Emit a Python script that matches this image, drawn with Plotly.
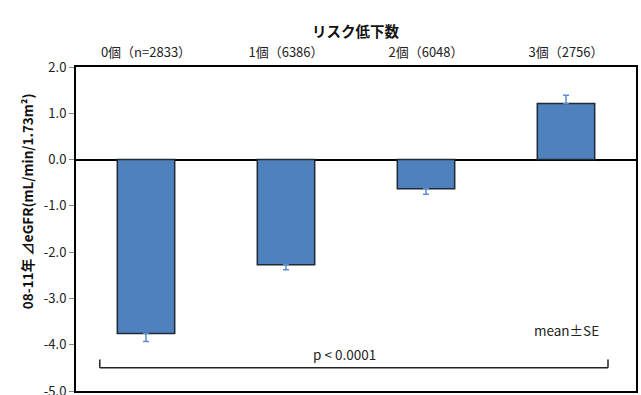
import plotly.graph_objects as go

# Risk-factor reduction groups and eGFR change 2008-2011
categories = ["0個（n=2833）", "1個（6386）", "2個（6048）", "3個（2756）"]
mean_change = [-3.76, -2.27, -0.63, 1.21]
std_error = [0.17, 0.11, 0.12, 0.18]
y_ticks = [2.0, 1.0, 0.0, -1.0, -2.0, -3.0, -4.0, -5.0]

FONT = "Noto Sans CJK JP"
BAR_COLOR = "#4F81BD"

fig = go.Figure()
fig.add_trace(go.Bar(
    x=categories,
    y=mean_change,
    width=0.41,
    marker=dict(color=BAR_COLOR, line=dict(color="#1f2a36", width=1.5)),
    error_y=dict(
        type="data",
        array=[se if m >= 0 else 0 for m, se in zip(mean_change, std_error)],
        arrayminus=[se if m < 0 else 0 for m, se in zip(mean_change, std_error)],
        color="#5b8fd0",
        thickness=1.5,
        width=3,
    ),
    showlegend=False,
))

fig.update_layout(
    width=641,
    height=395,
    margin=dict(l=76, r=5, t=67, b=4),
    paper_bgcolor="white",
    plot_bgcolor="white",
    font=dict(family=FONT, size=13, color="#222222"),
    bargap=0.59,
    xaxis=dict(
        side="top",
        automargin=False,
        showgrid=False,
        zeroline=False,
        showline=True,
        linecolor="black",
        linewidth=2,
        mirror=True,
        ticks="",
        tickfont=dict(family=FONT, size=13, color="#222222"),
        ticklabelstandoff=3,
    ),
    yaxis=dict(
        range=[-5.0, 2.0],
        automargin=False,
        tickvals=y_ticks,
        ticktext=[f"{v:.1f}" for v in y_ticks],
        showgrid=False,
        zeroline=True,
        zerolinecolor="black",
        zerolinewidth=1.5,
        showline=True,
        linecolor="black",
        linewidth=2,
        mirror=True,
        ticks="outside",
        ticklen=5,
        tickcolor="#888888",
        tickfont=dict(family=FONT, size=13, color="#222222"),
        ticklabeloverflow="allow",
    ),
)

# Top title
fig.add_annotation(
    text="<b>リスク低下数</b>", xref="paper", yref="paper",
    x=0.5, y=1.0, yshift=49, showarrow=False,
    font=dict(family=FONT, size=14.5, color="#111111"),
)

# Rotated y-axis title
fig.add_annotation(
    text="<b>08-11年 ⊿eGFR(mL/min/1.73m²)</b>", xref="paper", yref="paper",
    x=0.0, xshift=-61, y=0.586, textangle=-90, showarrow=False,
    font=dict(family=FONT, size=13.5, color="#111111"),
)

# Significance bracket spanning all groups
bx0, bx1 = -0.33, 3.3
by, btip = -4.5, -4.32
fig.add_shape(type="line", x0=bx0, x1=bx1, y0=by, y1=by, xref="x", yref="y",
              line=dict(color="#222222", width=1.5))
fig.add_shape(type="line", x0=bx0, x1=bx0, y0=by, y1=btip, xref="x", yref="y",
              line=dict(color="#222222", width=1.5))
fig.add_shape(type="line", x0=bx1, x1=bx1, y0=by, y1=btip, xref="x", yref="y",
              line=dict(color="#222222", width=1.5))
fig.add_annotation(text="p < 0.0001", x=1.42, y=-4.2, xref="x", yref="y",
                   showarrow=False, font=dict(family=FONT, size=13.5, color="#222222"))
fig.add_annotation(text="mean±SE", x=3.0, y=-3.68, xref="x", yref="y",
                   showarrow=False, font=dict(family=FONT, size=13.5, color="#222222"))

fig.write_html("out.html")
